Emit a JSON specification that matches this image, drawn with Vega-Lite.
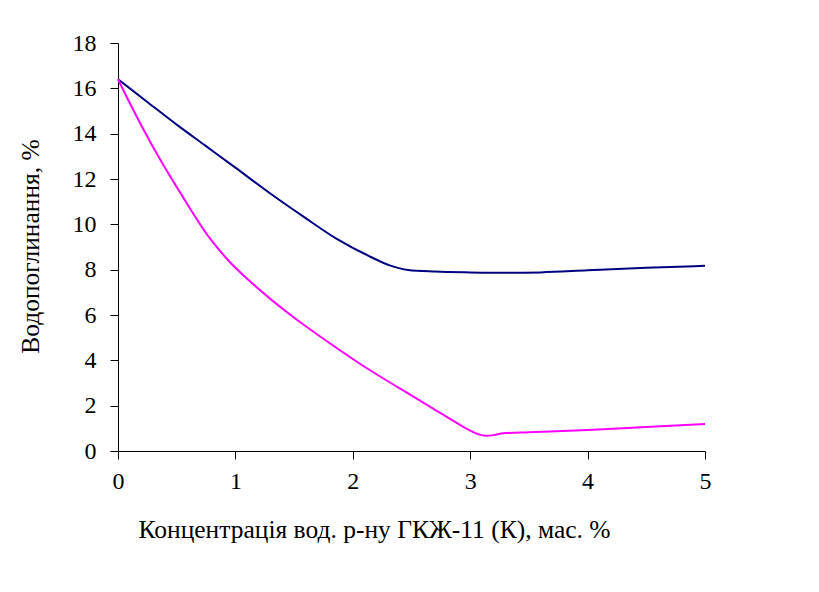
{
  "$schema": "https://vega.github.io/schema/vega-lite/v6.json",
  "width": 587,
  "height": 408,
  "autosize": {"type": "none"},
  "padding": {"left": 118, "top": 43, "right": 114, "bottom": 141},
  "background": "white",
  "config": {
    "view": {"stroke": null},
    "font": "Liberation Serif",
    "axis": {
      "grid": false,
      "domainColor": "black",
      "tickColor": "black",
      "labelColor": "black",
      "titleColor": "black",
      "labelFont": "Liberation Serif",
      "titleFont": "Liberation Serif",
      "labelFontSize": 24,
      "titleFontSize": 25.5,
      "titleFontWeight": "normal",
      "domainWidth": 1,
      "tickWidth": 1,
      "labelFlush": false
    }
  },
  "data": {
    "values": [
      {"c": 0, "w": 16.4, "s": "a"},
      {"c": 0.25, "w": 15.4, "s": "a"},
      {"c": 0.5, "w": 14.4, "s": "a"},
      {"c": 0.75, "w": 13.45, "s": "a"},
      {"c": 1.0, "w": 12.5, "s": "a"},
      {"c": 1.3, "w": 11.35, "s": "a"},
      {"c": 1.58, "w": 10.34, "s": "a"},
      {"c": 1.86, "w": 9.37, "s": "a"},
      {"c": 2.15, "w": 8.57, "s": "a"},
      {"c": 2.32, "w": 8.18, "s": "a"},
      {"c": 2.47, "w": 7.99, "s": "a"},
      {"c": 2.7, "w": 7.92, "s": "a"},
      {"c": 3.0, "w": 7.88, "s": "a"},
      {"c": 3.3, "w": 7.86, "s": "a"},
      {"c": 3.6, "w": 7.88, "s": "a"},
      {"c": 4.0, "w": 7.97, "s": "a"},
      {"c": 4.5, "w": 8.08, "s": "a"},
      {"c": 5.0, "w": 8.17, "s": "a"},
      {"c": 0, "w": 16.4, "s": "b"},
      {"c": 0.1, "w": 15.35, "s": "b"},
      {"c": 0.2, "w": 14.35, "s": "b"},
      {"c": 0.36, "w": 12.85, "s": "b"},
      {"c": 0.53, "w": 11.4, "s": "b"},
      {"c": 0.78, "w": 9.4, "s": "b"},
      {"c": 0.95, "w": 8.35, "s": "b"},
      {"c": 1.1, "w": 7.6, "s": "b"},
      {"c": 1.3, "w": 6.7, "s": "b"},
      {"c": 1.47, "w": 6.0, "s": "b"},
      {"c": 1.75, "w": 4.95, "s": "b"},
      {"c": 2.09, "w": 3.75, "s": "b"},
      {"c": 2.4, "w": 2.76, "s": "b"},
      {"c": 2.66, "w": 1.95, "s": "b"},
      {"c": 2.85, "w": 1.35, "s": "b"},
      {"c": 3.0, "w": 0.9, "s": "b"},
      {"c": 3.07, "w": 0.74, "s": "b"},
      {"c": 3.13, "w": 0.67, "s": "b"},
      {"c": 3.2, "w": 0.7, "s": "b"},
      {"c": 3.28, "w": 0.78, "s": "b"},
      {"c": 3.5, "w": 0.83, "s": "b"},
      {"c": 4.0, "w": 0.93, "s": "b"},
      {"c": 4.5, "w": 1.06, "s": "b"},
      {"c": 5.0, "w": 1.19, "s": "b"}
    ]
  },
  "mark": {"type": "line", "interpolate": "monotone", "strokeWidth": 2},
  "encoding": {
    "x": {
      "field": "c",
      "type": "quantitative",
      "scale": {"domain": [0, 5], "nice": false},
      "axis": {
        "values": [0, 1, 2, 3, 4, 5],
        "tickSize": 8,
        "labelPadding": 10,
        "title": "Концентрація вод. р-ну ГКЖ-11 (К), мас. %",
        "titleAnchor": "start",
        "titleAlign": "left",
        "titleX": 20,
        "titleY": 86,
        "titleBaseline": "alphabetic"
      }
    },
    "y": {
      "field": "w",
      "type": "quantitative",
      "scale": {"domain": [0, 18], "nice": false},
      "axis": {
        "values": [0, 2, 4, 6, 8, 10, 12, 14, 16, 18],
        "tickSize": 8,
        "labelPadding": 14,
        "title": "Водопоглинання, %",
        "titleAngle": -90,
        "titleAlign": "center",
        "titleX": -80,
        "titleY": 203,
        "titleBaseline": "alphabetic"
      }
    },
    "color": {
      "field": "s",
      "type": "nominal",
      "scale": {"domain": ["a", "b"], "range": ["#000080", "#FF00FF"]},
      "legend": null
    }
  }
}
